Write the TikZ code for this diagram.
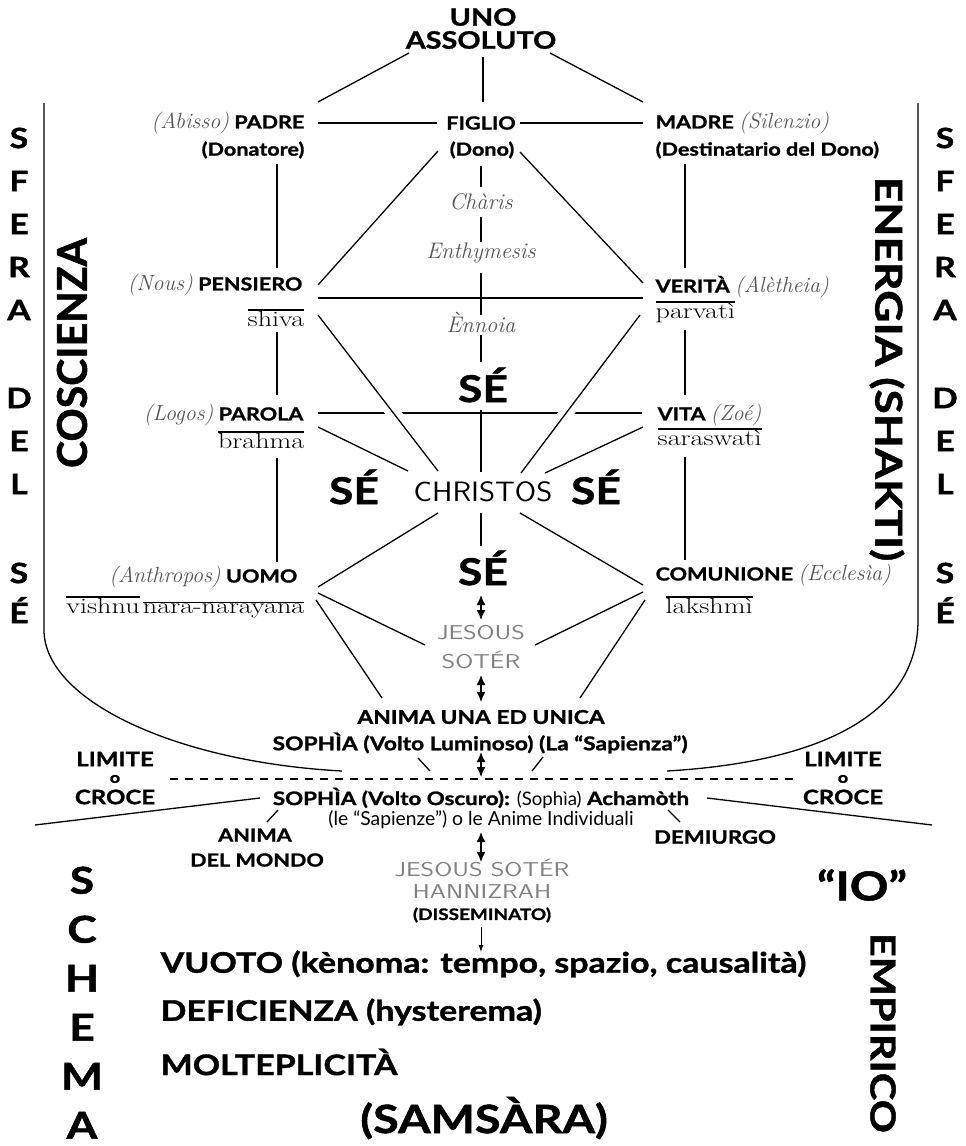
\documentclass[tikz,border=0pt]{standalone}
\usepackage{fontspec}
\newfontfamily\gill{Lato}[BoldFeatures={FakeStretch=1.2,FakeBold=1.2}]
\newfontfamily\gilln{Lato}[BoldFeatures={FakeBold=1.2}]
\usetikzlibrary{arrows.meta,calc}
\definecolor{calg}{HTML}{555555}
\definecolor{jesg}{HTML}{808080}
\newcommand\cl[1]{{\mdseries\rmfamily\itshape\color{calg}\fontsize{22}{24}\selectfont #1}}
\newcommand\skt[1]{\leavevmode\vbox{\hrule height 1.4pt\kern0.2pt\hbox{\mdseries\rmfamily\fontsize{22}{24}\selectfont\scalebox{1.28}[1]{#1}}}}
\newcommand\gk[1]{\scalebox{1.3}[1]{#1}}
\begin{document}
\begin{tikzpicture}[x=1pt,y=-1pt,line width=1.3pt,
  every node/.style={inner sep=0pt},
  lab/.style={font=\gill\bfseries\fontsize{18}{20}\selectfont},
  big/.style={font=\gill\bfseries\fontsize{24}{26}\selectfont},
  se/.style={font=\gill\bfseries\fontsize{37}{40}\selectfont},
  calnode/.style={font=\rmfamily\itshape\fontsize{22.5}{24}\selectfont,text=calg},
  greek/.style={font=\sffamily\fontsize{20}{22}\selectfont,text=jesg},
  reg/.style={font=\gill\fontsize{19.3}{21}\selectfont},
  mid/.style={font=\gill\bfseries\fontsize{18}{20}\selectfont},
  lim/.style={font=\gill\bfseries\fontsize{20}{22}\selectfont},
  limo/.style={font=\gill\bfseries\fontsize{15}{16}\selectfont},
  bottomtxt/.style={font=\gill\bfseries\fontsize{28.3}{30}\selectfont},
  sidecol/.style={font=\gill\bfseries\fontsize{28}{43}\selectfont,align=center},
  halo/.style={preaction={draw=white,line width=14pt,shorten <=25pt,shorten >=25pt}},
  dbl/.style={{Latex[length=10pt,width=9pt]}-{Latex[length=10pt,width=9pt]},line width=1.5pt},
  sgl/.style={-{Latex[length=7pt,width=5pt]},line width=0.9pt}]
\useasboundingbox (0,0) rectangle (966,1146);
\fill[white] (0,0) rectangle (966,1146);
% ---- nodes
\node[big] (uno) at (483,17) {UNO};
\node[big] (assoluto) at (481,40) {ASSOLUTO};
\node[lab,anchor=east] (padre) at (305,123) {\cl{(Abisso)} PADRE};
\node[lab,anchor=east] (donatore) at (305,150) {(Donatore)};
\node[lab] (figlio) at (481,123) {FIGLIO};
\node[lab] (dono) at (482,150) {(Dono)};
\node[lab,anchor=west] (madre) at (655,123) {MADRE \cl{(Silenzio)}};
\node[lab,anchor=west] (dest) at (655,150) {(Destinatario del Dono)};
\node[calnode] (charis) at (481,202) {Chàris};
\node[calnode] (enthy) at (481,253) {Enthymesis};
\node[calnode] (ennoia) at (481,322) {Ènnoia};
\node[lab,anchor=east] (pensiero) at (303,285) {\cl{(Nous)} PENSIERO};
\node[anchor=east] (shiva) at (305,318) {\skt{shiva}};
\node[lab,anchor=west] (verita) at (655,287) {VERITÀ \cl{(Alètheia)}};
\node[anchor=west] (parvati) at (655,312) {\skt{parvatì}};
\node[se] (setop) at (483,385) {SÉ};
\node[lab,anchor=east] (parola) at (304,415) {\cl{(Logos)} PAROLA};
\node[anchor=east] (brahma) at (305,440) {\skt{brahma}};
\node[lab,anchor=west] (vita) at (657,415) {VITA \cl{(Zoé)}};
\node[anchor=west] (saraswati) at (657,437) {\skt{saraswatì}};
\node[font=\sffamily\fontsize{28}{30}\selectfont] (christos) at (483,492) {\scalebox{1.1}[1]{CHRISTOS}};
\node[se] (sel) at (354,487) {SÉ};
\node[se] (ser) at (596,487) {SÉ};
\node[se] (sebot) at (483,568) {SÉ};
\node[lab,anchor=east] (uomo) at (298,577) {\cl{(Anthropos)} UOMO};
\node[anchor=east] (vishnu) at (305,607) {\skt{vishnu} \skt{nara-narayana}};
\node[lab,anchor=west] (comunione) at (655,575) {COMUNIONE \cl{(Ecclesìa)}};
\node[anchor=west] (lakshmi) at (665,605) {\skt{lakshmì}};
\node[greek] (jesous) at (481,633) {\gk{JESOUS}};
\node[greek] (soter) at (481,660) {\gk{SOTÉR}};
\node[lab,font=\gill\bfseries\fontsize{19}{21}\selectfont] (anima) at (481,717) {ANIMA UNA ED UNICA};
\node[lab,font=\gill\bfseries\fontsize{19}{21}\selectfont] (luminoso) at (480,743) {SOPHÌA (Volto Luminoso) (La “Sapienza”)};
\node[lim] (liml) at (115,759) {LIMITE};
\node[limo] (ol) at (115,779) {o};
\node[lim] (crocel) at (115,797) {CROCE};
\node[lim] (limr) at (843,759) {LIMITE};
\node[limo] (or) at (843,779) {o};
\node[lim] (crocer) at (843,797) {CROCE};
\node[lab,font=\gill\bfseries\fontsize{18.6}{20}\selectfont] (oscuro) at (481,798) {SOPHÌA (Volto Oscuro): {\mdseries(Sophìa)} Achamòth};
\node[reg] (sapienze) at (481,820) {(le “Sapienze”) o le Anime Individuali};
\node[mid] (animam) at (255,835) {ANIMA};
\node[mid] (mondo) at (257,860) {DEL MONDO};
\node[mid,font=\gill\bfseries\fontsize{18.5}{20}\selectfont] (demiurgo) at (715,837) {DEMIURGO};
\node[greek] (js2) at (482,868) {\gk{JESOUS SOTÉR}};
\node[greek] (hann) at (482,892) {\gk{HANNIZRAH}};
\node[font=\gill\bfseries\fontsize{15.8}{17}\selectfont] (dissem) at (482,915) {(DISSEMINATO)};
\node[bottomtxt,anchor=west] (vuoto) at (160,964) {VUOTO (kènoma: tempo, spazio, causalità)};
\node[bottomtxt,anchor=west] (defic) at (160,1012) {DEFICIENZA (hysterema)};
\node[bottomtxt,anchor=west] (molte) at (160,1062) {MOLTEPLICITÀ};
\node[font=\gill\bfseries\fontsize{39}{41}\selectfont] (samsara) at (484,1118) {(SAMSÀRA)};
\node[sidecol,anchor=north] (sferal) at (19,127) {S\\F\\E\\R\\A\\[45pt]D\\E\\L\\[46pt]S\\[-3pt]É};
\node[sidecol,anchor=north] (sferar) at (945,127) {S\\F\\E\\R\\A\\[45pt]D\\E\\L\\[46pt]S\\[-3pt]É};
\node[rotate=90,font=\gilln\bfseries\fontsize{41}{43}\selectfont] (coscienza) at (72,353) {COSCIENZA};
\node[rotate=-90,font=\gill\bfseries\fontsize{37}{39}\selectfont] (energia) at (887,369) {ENERGIA (SHAKTI)};
\node[font=\gill\bfseries\fontsize{37}{49}\selectfont,align=center,anchor=north] (schema) at (82,866) {S\\C\\H\\E\\M\\A};
\node[font=\gill\bfseries\fontsize{40}{42}\selectfont] (io) at (862,885) {“IO”};
\node[rotate=-90,font=\gill\bfseries\fontsize{34.5}{36}\selectfont] (empirico) at (883,1033) {EMPIRICO};
% ---- free ends
\coordinate (topl) at (44,103);
\coordinate (topr) at (918,103);
\coordinate (farl) at (35,825);
\coordinate (farr) at (932,825);
\coordinate (dashl) at (170,779);
\coordinate (dashr) at (793,779);
% ---- connectors
\draw ($(assoluto)+(-72,13)$) -- ($(padre.east)+(13,-21)$);
\draw ($(assoluto)+(2,17)$) -- ($(figlio)+(2,-21)$);
\draw ($(assoluto)+(69,13)$) -- ($(madre.west)+(-12,-21)$);
\draw ($(padre.east)+(13,0)$) -- ($(figlio)+(-44,0)$);
\draw ($(figlio)+(39,0)$) -- ($(madre.west)+(-12,0)$);
\draw ($(donatore.east)+(-28,14)$) -- ($(pensiero.east)+(-26,-17)$);
\draw ($(dest.west)+(30,14)$) -- ($(verita.west)+(30,-19)$);
\draw ($(shiva.east)+(-28,14)$) -- ($(parola.east)+(-27,-20)$);
\draw ($(parvati.west)+(30,18)$) -- ($(vita.west)+(28,-20)$);
\draw ($(brahma.east)+(-28,18)$) -- ($(uomo.east)+(-21,-15)$);
\draw ($(saraswati.west)+(28,20)$) -- ($(comunione.west)+(30,-15)$);
\draw ($(dono)+(-44,1)$) -- ($(pensiero.east)+(15,0)$);
\draw ($(dono)+(38,2)$) -- ($(verita.west)+(-12,-4)$);
\draw ($(pensiero.east)+(15,13)$) -- ($(verita.west)+(-12,11)$);
\draw ($(parola.east)+(14,-2)$) -- ($(vita.west)+(-15,-2)$);
\draw[halo] ($(shiva.east)+(13,-3)$) -- ($(christos)+(-45,-21)$);
\draw[halo] ($(parvati.west)+(-15,3)$) -- ($(christos)+(38,-19)$);
\draw ($(brahma.east)+(13,-13)$) -- ($(christos)+(-75,-21)$);
\draw ($(vita.west)+(-14,12)$) -- ($(christos)+(62,-19)$);
\draw ($(christos)+(-45,21)$) -- ($(uomo.east)+(20,10)$);
\draw ($(christos)+(37,21)$) -- ($(comunione.west)+(-12,10)$);
\draw ($(uomo.east)+(20,16)$) -- ($(jesous)+(-56,12)$);
\draw ($(uomo.east)+(18,23)$) -- ($(anima)+(-99,-19)$);
\draw ($(comunione.west)+(-12,17)$) -- ($(jesous)+(54,12)$);
\draw ($(comunione.west)+(-10,25)$) -- ($(anima)+(99,-19)$);
% central axis
\draw ($(dono)+(-1,16)$) -- ($(charis)+(0,-15)$);
\draw ($(charis)+(0,15)$) -- ($(enthy)+(0,-11)$);
\draw ($(enthy)+(0,20)$) -- ($(ennoia)+(0,-7)$);
\draw ($(ennoia)+(0,13)$) -- ($(setop)+(-2,-23)$);
\draw ($(setop)+(-2,25)$) -- ($(christos)+(-2,-20)$);
\draw ($(christos)+(-2,21)$) -- ($(sebot)+(-2,-22)$);
\draw[dbl] ($(sebot)+(-2,27)$) -- ($(jesous)+(0,-13)$);
\draw[dbl] ($(soter)+(0,15)$) -- ($(anima)+(0,-15)$);
\draw[dbl] ($(luminoso)+(1,9)$) -- ($(oscuro)+(0,-21)$);
\draw[dbl] ($(sapienze)+(0,12)$) -- ($(js2)+(-1,-6)$);
\draw[sgl] ($(dissem)+(-1,12)$) -- ($(vuoto.west)+(321,-12)$);
% limit and spheres
\draw[line width=2.6pt,dash pattern=on 8pt off 7pt] (dashl) -- (dashr);
\draw (topl) -- (44,630) .. controls (44,700) and (175,762) .. ($(luminoso)+(-138,28)$);
\draw (topr) -- (918,620) .. controls (918,715) and (820,762) .. ($(luminoso)+(187,28)$);
\draw (farl) -- ($(oscuro)+(-221,0)$);
\draw ($(oscuro)+(226,0)$) -- (farr);
\draw ($(luminoso)+(-62,15)$) -- ($(luminoso)+(-50,28)$);
\draw ($(luminoso)+(63,14)$) -- ($(luminoso)+(52,28)$);
\draw ($(oscuro)+(-203,12)$) -- ($(oscuro)+(-214,24)$);
\draw ($(oscuro)+(187,12)$) -- ($(oscuro)+(199,24)$);
\end{tikzpicture}
\end{document}
